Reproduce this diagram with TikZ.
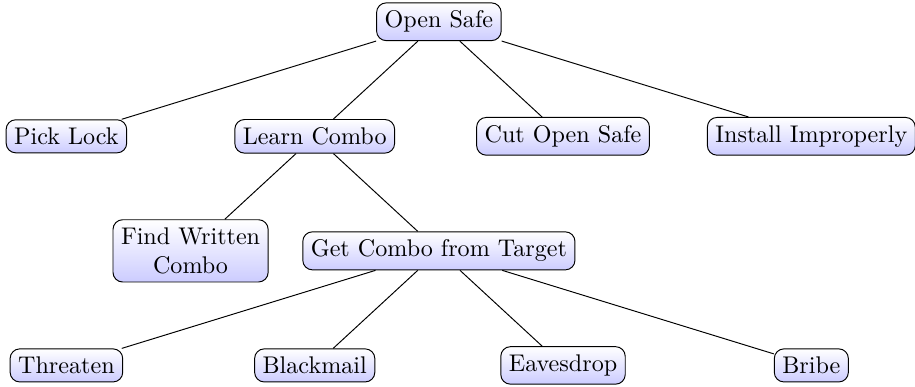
\documentclass[tikz,border=0pt]{standalone}
\usepackage{xcolor}

\tikzset{
    goal/.style={draw, rounded corners=4pt, top color=white, bottom color=blue!20,
        align=center},
}

\begin{document}
\begin{tikzpicture}[x=1.81cm, y=1.67cm]
    \useasboundingbox (-3.535,0.19) rectangle (3.835,-3.18);

    \node [goal] (safe) at (0,0) {Open Safe};
    \node [goal] (pick) at (-3,-1) {Pick Lock};
    \node [goal] (learn) at (-1,-1) {Learn Combo};
    \node [goal] (cut) at (1,-1) {Cut Open Safe};
    \node [goal] (install) at (3,-1) {Install Improperly};
    \node [goal] (written) at (-2,-2) {Find Written\\Combo};
    \node [goal] (target) at (0,-2) {Get Combo from Target};
    \node [goal] (threaten) at (-3,-3) {Threaten};
    \node [goal] (blackmail) at (-1,-3) {Blackmail};
    \node [goal] (eavesdrop) at (1,-3) {Eavesdrop};
    \node [goal] (bribe) at (3,-3) {Bribe};

    \draw (safe) -- (pick);
    \draw (safe) -- (learn);
    \draw (safe) -- (cut);
    \draw (safe) -- (install);
    \draw (learn) -- (written);
    \draw (learn) -- (target);
    \draw (target) -- (threaten);
    \draw (target) -- (blackmail);
    \draw (target) -- (eavesdrop);
    \draw (target) -- (bribe);
\end{tikzpicture}
\end{document}
